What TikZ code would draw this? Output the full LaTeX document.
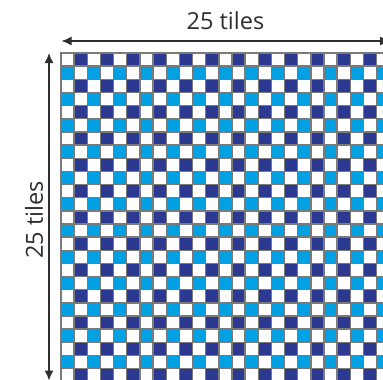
\documentclass[tikz,border=0pt]{standalone}
\usepackage{fontspec}
\setmainfont{Open Sans}
\usetikzlibrary{arrows.meta}
\definecolor{cnavy}{HTML}{2B3990}
\definecolor{ccyan}{HTML}{00A0E3}
\definecolor{cgrid}{HTML}{7A7A7A}
\definecolor{cline}{HTML}{2E2E2E}
\colorlet{tile0}{white}
\colorlet{tile1}{cnavy}
\colorlet{tile2}{ccyan}
\colorlet{tile3}{white}
\newcommand\tilesz{13.15}
\tikzset{
  every picture/.style={x=1pt, y=-1pt},
  tile/.style={draw=cgrid, line width=1.4pt},
  dimarrow/.style={{Latex[length=10pt,width=9pt]}-{Latex[length=10pt,width=9pt]}, draw=cline, line width=1.4pt},
  dimlabel/.style={font=\fontsize{23.5}{27}\selectfont, text=cline, inner sep=0pt},
}

\begin{document}
\begin{tikzpicture}
  \useasboundingbox (0,0) rectangle (383,380);
  \clip (0,0) rectangle (383,380);
  % checkerboard, 25 x 25
  \foreach \r in {0,...,24}
    \foreach \c in {0,...,24} {
      \pgfmathtruncatemacro\kind{mod(\r,2)*2+mod(\c,2)}
      \draw[tile, fill=tile\kind] (61+\c*\tilesz, 53+\r*\tilesz) rectangle ++(\tilesz,\tilesz);
    }
  \coordinate (topL) at (61.5,41);
  \coordinate (topR) at (390,41);
  \coordinate (leftT) at (49,53);
  \coordinate (leftB) at (49,380.5);
  \draw[dimarrow] (topL) -- (topR);
  \draw[dimarrow] (leftT) -- (leftB);
  \node[dimlabel] (widthlbl) at (225.5,21) {25 tiles};
  \node[dimlabel, rotate=90] (heightlbl) at (34,220) {25 tiles};
\end{tikzpicture}
\end{document}
